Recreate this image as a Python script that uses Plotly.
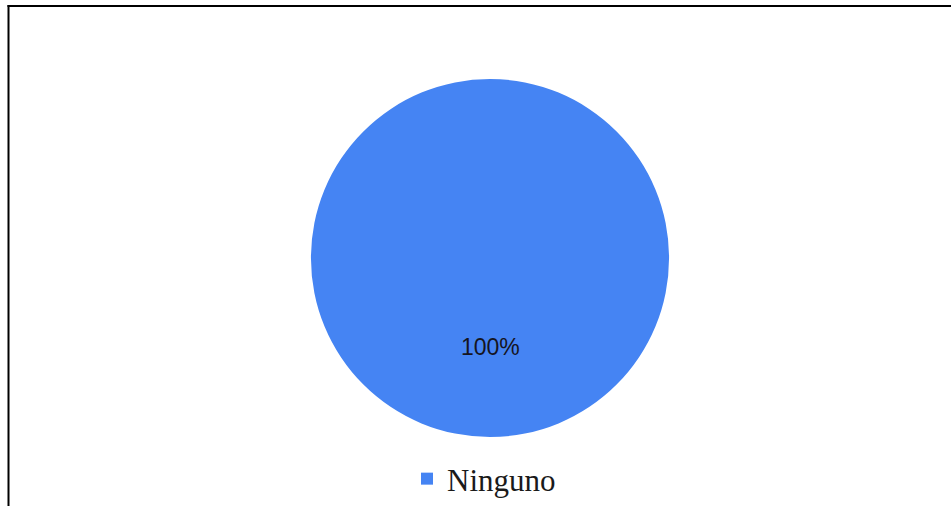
import plotly.graph_objects as go

# Respuestas: una sola categoría que reúne a todos los encuestados
labels = ["Ninguno"]
values = [100]
colors = ["#4584f3"]

W, H = 951, 506

total = sum(values)
pct_text = [f"{round(v / total * 100)}%" for v in values]

fig = go.Figure(
    go.Pie(
        labels=labels,
        values=values,
        marker=dict(colors=colors, line=dict(width=0)),
        textinfo="none",
        sort=False,
        hoverinfo="label+percent",
        domain=dict(x=[(490 - 179) / W, (490 + 179) / W],
                    y=[(H - 258 - 179) / H, (H - 258 + 179) / H]),
        showlegend=True,
    )
)

# etiqueta de porcentaje dentro del sector
fig.add_annotation(
    x=490 / W, y=(H - 347) / H, xref="paper", yref="paper",
    xanchor="center", yanchor="middle",
    text=pct_text[0], showarrow=False,
    font=dict(family="Liberation Sans, Arial", size=23, color="#15151f"),
)

# marco del gráfico (superior e izquierdo)
fig.add_shape(type="line", xref="paper", yref="paper",
              x0=7.5 / W, x1=1, y0=1 - 6 / H, y1=1 - 6 / H,
              line=dict(color="black", width=2))
fig.add_shape(type="line", xref="paper", yref="paper",
              x0=8.5 / W, x1=8.5 / W, y0=0, y1=1 - 5 / H,
              line=dict(color="black", width=2))

fig.update_layout(
    width=W, height=H,
    margin=dict(l=0, r=0, t=0, b=0),
    paper_bgcolor="white",
    plot_bgcolor="white",
    legend=dict(
        orientation="h",
        x=407 / W, xanchor="left",
        y=0, yanchor="bottom",
        font=dict(family="Liberation Serif, Times New Roman", size=31, color="#1a1a1a"),
        itemwidth=30,
        bgcolor="rgba(0,0,0,0)",
    ),
)

fig.write_html("out.html")
